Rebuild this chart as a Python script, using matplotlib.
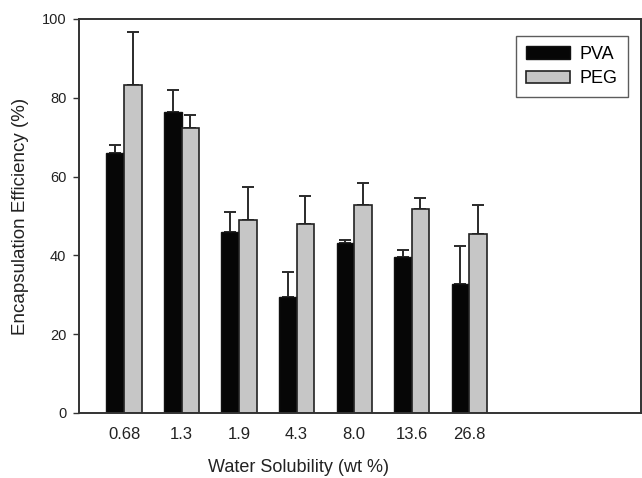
import matplotlib
matplotlib.use("Agg")
import matplotlib.pyplot as plt
import numpy as np

categories = ["0.68", "1.3", "1.9", "4.3", "8.0", "13.6", "26.8"]
pva = [66.0, 76.5, 45.9, 29.5, 43.2, 39.5, 32.8]
pva_err = [1.9, 5.4, 5.0, 6.2, 0.7, 1.9, 9.7]
peg = [83.3, 72.4, 48.9, 47.9, 52.7, 51.7, 45.5]
peg_err = [13.3, 3.2, 8.5, 7.2, 5.8, 2.8, 7.4]
yticks = [0, 20, 40, 60, 80, 100]

plt.rcParams['font.family'] = ['Liberation Sans', 'DejaVu Sans']

W, H = 642, 478
fig = plt.figure(figsize=(W / 100, H / 100), dpi=100)
ax = fig.add_axes([79 / W, (H - 413) / H, (641 - 79) / W, (413 - 19) / H])

x = np.arange(len(categories))
bw = 0.305
zeros = [0] * len(categories)
ax.bar(x - bw / 2, pva, bw, color='#060606', edgecolor='#111111', linewidth=1.0,
       label='PVA', zorder=2)
ax.bar(x + bw / 2, peg, bw, color='#c6c6c6', edgecolor='#222222', linewidth=1.2,
       label='PEG', zorder=2)
ax.errorbar(x - bw / 2, pva, yerr=[zeros, pva_err], fmt='none', ecolor='#2a2a2a',
            elinewidth=1.4, capsize=4.3, capthick=1.4, zorder=1)
ax.errorbar(x + bw / 2, peg, yerr=[zeros, peg_err], fmt='none', ecolor='#2a2a2a',
            elinewidth=1.4, capsize=4.3, capthick=1.4, zorder=1)

ax.set_xlim(-0.783, 8.99)
ax.set_ylim(0, 100)
ax.set_yticks(yticks)
ax.set_yticklabels([str(t) for t in yticks], fontsize=10.5, color='#222222')
ax.set_xticks(x)
ax.set_xticklabels(categories, fontsize=12, color='#222222')
ax.tick_params(axis='x', length=0, pad=10)
ax.tick_params(axis='y', length=4, width=1.0, pad=5, color='#333333')

for s in ['left', 'bottom', 'top', 'right']:
    ax.spines[s].set_linewidth(1.4)
    ax.spines[s].set_color('#333333')

fig.text(298 / W, (H - 467) / H, 'Water Solubility (wt %)', ha='center', va='center',
         fontsize=13, color='#222222')
fig.text(21 / W, (H - 216) / H, 'Encapsulation Efficiency (%)', ha='center', va='center',
         rotation=90, fontsize=13.5, color='#222222')

leg = ax.legend(loc='upper right', bbox_to_anchor=(627.7 / W, (H - 36) / H),
                bbox_transform=fig.transFigure, borderaxespad=0, fancybox=False,
                frameon=True, fontsize=13, handlelength=2.45, handleheight=0.7,
                handletextpad=0.55, borderpad=0.55, labelspacing=0.4)
leg.get_frame().set_edgecolor('#333333')
leg.get_frame().set_linewidth(1.0)

fig.savefig('out.png', dpi=100)
